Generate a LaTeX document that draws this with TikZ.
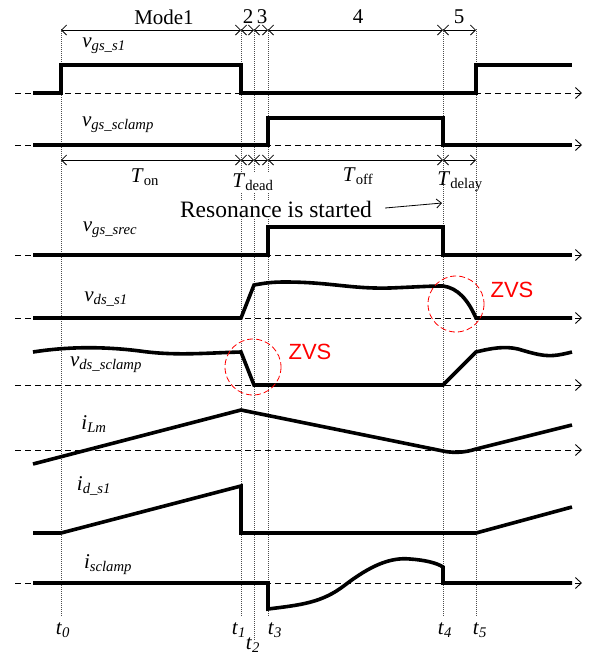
\documentclass[tikz,border=0pt]{standalone}
\usepackage{fontspec}
\setmainfont{Liberation Serif}
\newfontfamily\zvsfont{Liberation Sans}
\usetikzlibrary{arrows.meta}
\newcommand{\wlab}[2]{\textit{#1}\textsubscript{\textit{#2}}}
\newcommand{\tlab}[2]{\textit{#1}\textsubscript{#2}}
\begin{document}
\begin{tikzpicture}[x=1pt,y=-1pt,font=\fontsize{21}{25}\selectfont,
  sig/.style={line width=3.6pt,line join=miter,line cap=butt},
  axis/.style={line width=0.9pt,dash pattern=on 6pt off 4pt,-{Straight Barb[length=6pt,width=11pt,line width=0.9pt]}},
  dim/.style={line width=0.8pt,{Straight Barb[length=5pt,width=10pt]}-{Straight Barb[length=5pt,width=10pt]}},
  vl/.style={line width=0.7pt,gray!60!black,dash pattern=on 1pt off 1pt},
  zvs/.style={red,line width=0.8pt,dash pattern=on 6pt off 3pt},
  zvstxt/.style={red,font=\zvsfont\fontsize{22}{26}\selectfont},
  lbl/.style={inner sep=1pt}]
\useasboundingbox (0,0) rectangle (591,657);
% vertical guide lines
\draw[vl] (61,29) -- (61,617);
\draw[vl] (241,29) -- (241,617);
\draw[vl] (254,29) -- (254,640);
\draw[vl] (268,29) -- (268,617);
\draw[vl] (443,29) -- (443,617);
\draw[vl] (476,29) -- (476,617);
% mode arrows
\draw[dim] (61,30) -- (241,30);
\draw[dim] (241,30) -- (254,30);
\draw[dim] (254,30) -- (268,30);
\draw[dim] (268,30) -- (443,30);
\draw[dim] (443,30) -- (476,30);
\node[lbl] (m1) at (164,17) {Mode1};
\node[lbl] (m2) at (248,17) {2};
\node[lbl] (m3) at (262,17) {3};
\node[lbl] (m4) at (358,17) {4};
\node[lbl] (m5) at (459,17) {5};
% time span arrows
\draw[dim] (61,160) -- (241,160);
\draw[dim] (241,160) -- (254,160);
\draw[dim] (254,160) -- (268,160);
\draw[dim] (268,160) -- (443,160);
\draw[dim] (443,160) -- (476,160);
\node[lbl] (ton) at (145,177) {\tlab{T}{on}};
\node[lbl,fill=white] (tdead) at (253,182) {\tlab{T}{dead}};
\node[lbl] (toff) at (358,176) {\tlab{T}{off}};
\node[lbl] (tdelay) at (460,182) {\tlab{T}{delay}};
\node[lbl,fill=white,font=\fontsize{23.5}{27}\selectfont] (res) at (276,209) {Resonance is started};
\coordinate (resend) at (442,203);
\draw[line width=0.8pt,-{Straight Barb[length=5pt,width=9pt]}] (res.east) ++(12,-1) -- (resend);
% vgs_s1
\draw[axis] (15,93) -- (582,93);
\draw[sig] (33,93) -- (61,93) -- (61,65) -- (241,65) -- (241,93) -- (476,93) -- (476,65) -- (572,65);
\node[lbl] (l1) at (104,46) {\wlab{v}{gs\_s1}};
% vgs_sclamp
\draw[axis] (15,145) -- (582,145);
\draw[sig] (33,145) -- (268,145) -- (268,118) -- (443,118) -- (443,145) -- (572,145);
\node[lbl] (l2) at (118,125) {\wlab{v}{gs\_sclamp}};
% vgs_srec
\draw[axis] (15,255) -- (582,255);
\draw[sig] (33,255) -- (268,255) -- (268,227) -- (443,227) -- (443,255) -- (572,255);
\node[lbl] (l3) at (110,230) {\wlab{v}{gs\_srec}};
% vds_s1
\draw[axis] (15,318) -- (582,318);
\draw[sig] (33,318) -- (241,318) -- (254,285) .. controls (265,283) and (272,282) .. (285,282)
  .. controls (330,282) and (350,289) .. (390,288) .. controls (415,287) and (430,286) .. (443,286)
  .. controls (458,288) and (468,300) .. (476,318) -- (572,318);
\node[lbl] (l4) at (106,299) {\wlab{v}{ds\_s1}};
\draw[zvs] (456,304) circle (28);
\node[zvstxt] (z1) at (512,290) {ZVS};
% vds_sclamp
\draw[axis] (15,385) -- (582,385);
\draw[sig] (33,352) .. controls (65,347) and (100,346) .. (140,351) .. controls (175,356) and (205,353) .. (241,352)
  -- (254,385) -- (443,385) -- (476,352) .. controls (492,348) and (505,346) .. (518,349)
  .. controls (535,354) and (545,357) .. (558,355) .. controls (564,354) and (568,353) .. (572,352);
\node[lbl] (l5) at (106,365) {\wlab{v}{ds\_sclamp}};
\draw[zvs] (253,367) circle (28);
\node[zvstxt] (z2) at (310,352) {ZVS};
% iLm
\draw[axis] (15,450) -- (582,450);
\draw[sig] (33,464) -- (241,410) -- (443,451) .. controls (452,453) and (464,453) .. (476,449) -- (572,425);
\node[lbl] (l6) at (94,424) {\wlab{i}{Lm}};
% id_s1
\draw[sig] (33,533) -- (61,533) -- (241,486) -- (241,533) -- (476,533) -- (572,507);
\node[lbl] (l7) at (94,486) {\wlab{i}{d\_s1}};
% isclamp
\draw[axis] (15,583) -- (582,583);
\draw[sig] (33,583) -- (268,583) -- (268,609) .. controls (300,605) and (322,603) .. (345,585)
  .. controls (370,566) and (390,557) .. (410,559) .. controls (425,560) and (437,563) .. (443,567)
  -- (443,583) -- (572,583);
\node[lbl] (l8) at (108,565) {\wlab{i}{sclamp}};
% time labels
\node[lbl] (t0) at (63,630) {\wlab{t}{0}};
\node[lbl] (t1) at (239,630) {\wlab{t}{1}};
\node[lbl] (t2) at (253,645) {\wlab{t}{2}};
\node[lbl] (t3) at (275,630) {\wlab{t}{3}};
\node[lbl] (t4) at (445,630) {\wlab{t}{4}};
\node[lbl] (t5) at (480,630) {\wlab{t}{5}};
\end{tikzpicture}
\end{document}
